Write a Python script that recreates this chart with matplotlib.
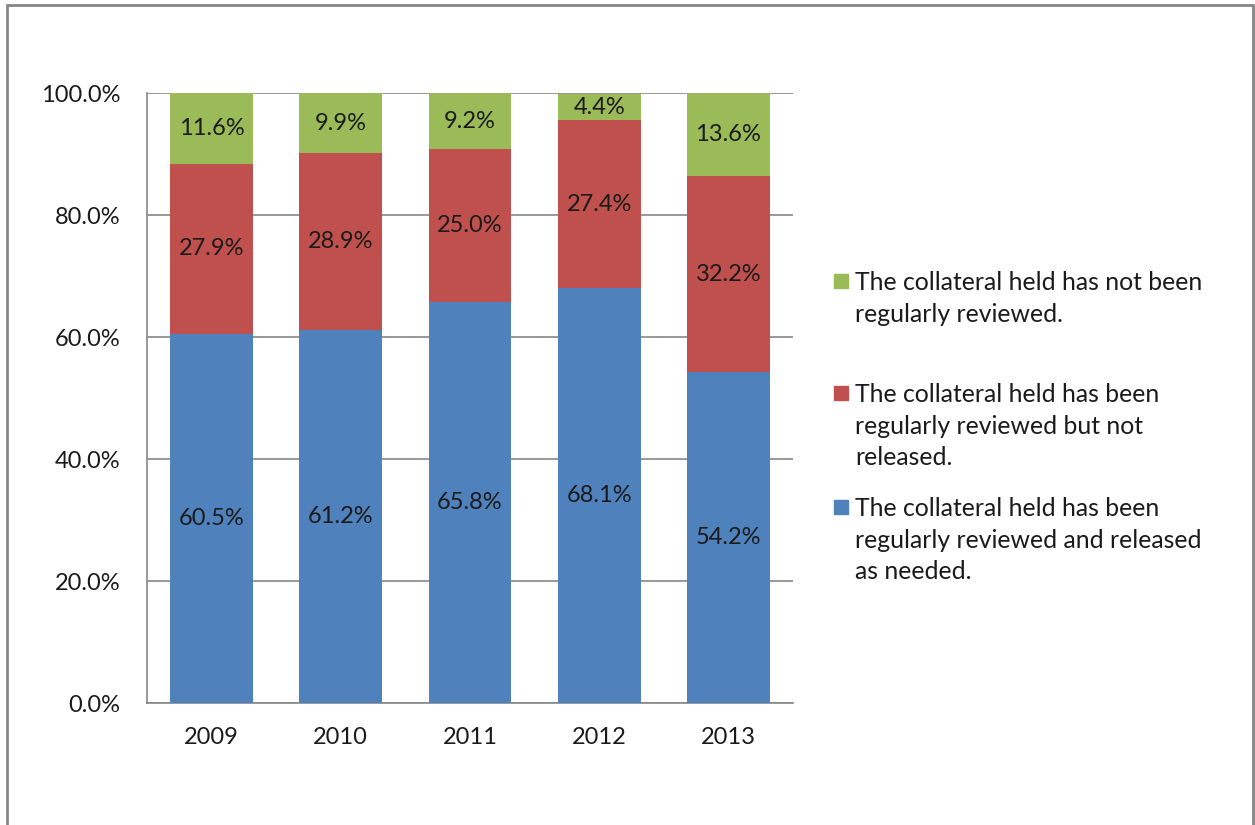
import matplotlib
matplotlib.use('Agg')
from matplotlib import pyplot as plt
from matplotlib.patches import Rectangle
import numpy as np

# values (percent)
years = ['2009', '2010', '2011', '2012', '2013']
released = [60.5, 61.2, 65.8, 68.1, 54.2]
not_released = [27.9, 28.9, 25.0, 27.4, 32.2]
not_reviewed = [11.6, 9.9, 9.2, 4.4, 13.6]

labels = ['The collateral held has not been\nregularly reviewed.',
          'The collateral held has been\nregularly reviewed but not\nreleased.',
          'The collateral held has been\nregularly reviewed and released\nas needed.']

c_blue = '#4F81BD'
c_red = '#C0504D'
c_green = '#9BBB59'

plt.rcParams['font.family'] = ['Lato', 'DejaVu Sans']
fs = 17

fig = plt.figure(figsize=(12.55, 8.25), dpi=100)
ax = fig.add_axes([147/1255, 1 - 703/825, (793-147)/1255, (703-93)/825])

x = np.arange(len(years))
w = 0.64
b1 = np.array(released)
b2 = b1 + np.array(not_released)

series = [(released, np.zeros(len(years)), c_blue),
          (not_released, b1, c_red),
          (not_reviewed, b2, c_green)]
for vals, bottom, col in series:
    bars = ax.bar(x, vals, w, bottom=bottom, color=col, zorder=3)
    ax.bar_label(bars, labels=['%.1f%%' % v for v in vals], label_type='center',
                 fontsize=fs, color='#1a1a1a')

ax.set_xlim(-0.5, len(years) - 0.5)
ax.set_ylim(0, 100)
ax.set_yticks(np.arange(0, 101, 20))
ax.set_yticklabels(['%.1f%%' % v for v in np.arange(0, 101, 20)])
ax.set_xticks(x)
ax.set_xticklabels(years)
ax.tick_params(axis='both', length=0, labelsize=fs, colors='#1a1a1a')
ax.tick_params(axis='y', pad=19)
ax.tick_params(axis='x', pad=17)
ax.grid(axis='y', color='#868686', linewidth=1.2, zorder=0)
ax.set_axisbelow(True)
for s in ['top', 'right']:
    ax.spines[s].set_visible(False)
for s in ['left', 'bottom']:
    ax.spines[s].set_color('#868686')
    ax.spines[s].set_linewidth(1.2)

# legend drawn by hand to match the uneven spacing in the reference
leg_y = [281, 393, 507]
leg_cols = [c_green, c_red, c_blue]
for yy, col, lab in zip(leg_y, leg_cols, labels):
    fig.patches.append(Rectangle((834/1255, 1 - (yy + 7)/825), 14/1255, 14/825,
                                 transform=fig.transFigure, color=col))
    fig.text(855/1255, 1 - (yy - 10)/825, lab, fontsize=17.8, va='top', ha='left',
             color='#1a1a1a', linespacing=1.45)

# outer chart border
fig.patches.append(Rectangle((7/1255, -0.05), (1253-7)/1255, 1.05 - 5/825,
                             transform=fig.transFigure, fill=False,
                             edgecolor='#868686', linewidth=2))

plt.savefig('out.png', dpi=100)
